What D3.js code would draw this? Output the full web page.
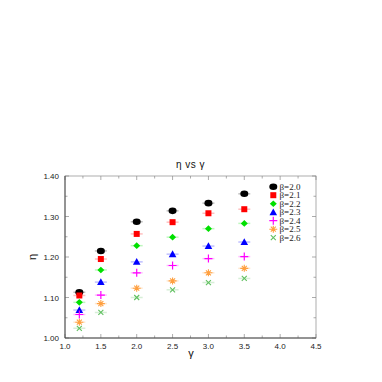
<!DOCTYPE html>
<html><head><meta charset="utf-8">
<script src="https://cdn.jsdelivr.net/npm/d3@7"></script>
<style>body{margin:0;background:#fff}svg{display:block}</style>
</head><body>
<script>
const gammaValues = [1.2, 1.5, 2.0, 2.5, 3.0, 3.5];
const betaLabels = ["β=2.0","β=2.1","β=2.2","β=2.3","β=2.4","β=2.5","β=2.6"];
const eta_b20 = [1.113, 1.215, 1.287, 1.314, 1.333, 1.356];
const eta_b21 = [1.105, 1.195, 1.257, 1.286, 1.308, 1.318];
const eta_b22 = [1.088, 1.168, 1.228, 1.249, 1.270, 1.283];
const eta_b23 = [1.069, 1.138, 1.188, 1.207, 1.227, 1.237];
const eta_b24 = [1.058, 1.106, 1.161, 1.179, 1.196, 1.201];
const eta_b25 = [1.039, 1.085, 1.123, 1.141, 1.161, 1.172];
const eta_b26 = [1.024, 1.063, 1.100, 1.119, 1.137, 1.147];
const xTicks = [1.0,1.5,2.0,2.5,3.0,3.5,4.0,4.5];
const yTicks = [1.00,1.10,1.20,1.30,1.40];
const colors = ["#000000","#ff0000","#00e000","#0000ff","#ff00ff","#ffa040","#60c060"];
const shapes = ["circle","square","diamond","triangle","plus","star","cross"];

const series = [eta_b20,eta_b21,eta_b22,eta_b23,eta_b24,eta_b25,eta_b26];
const W=382,H=382;
const svg=d3.select("body").append("svg").attr("width",W).attr("height",H);
const x=d3.scaleLinear().domain([1.0,4.5]).range([65,316]);
const y=d3.scaleLinear().domain([1.0,1.4]).range([338,176]);
const font="Helvetica, Arial, 'Liberation Sans', sans-serif";

// frame
svg.append("rect").attr("x",65).attr("y",176).attr("width",251).attr("height",162)
  .attr("fill","none").attr("stroke","#999").attr("stroke-width",0.8);

// ticks
const minorX=d3.range(1.0,4.5001,0.25), minorY=d3.range(1.0,1.4001,0.05);
const tg=svg.append("g").attr("stroke","#888").attr("stroke-width",0.7);
minorX.forEach(v=>{
  const L = Math.abs(v*2-Math.round(v*2))<1e-6?4:2.5;
  tg.append("line").attr("x1",x(v)).attr("x2",x(v)).attr("y1",338).attr("y2",338-L);
  tg.append("line").attr("x1",x(v)).attr("x2",x(v)).attr("y1",176).attr("y2",176+L);
});
minorY.forEach(v=>{
  const L = Math.abs(v*10-Math.round(v*10))<1e-6?4:2.5;
  tg.append("line").attr("y1",y(v)).attr("y2",y(v)).attr("x1",65).attr("x2",65+L);
  tg.append("line").attr("y1",y(v)).attr("y2",y(v)).attr("x1",316).attr("x2",316-L);
});
// axis lines darker
svg.append("line").attr("x1",65).attr("x2",65).attr("y1",176).attr("y2",338).attr("stroke","#444").attr("stroke-width",0.9);
svg.append("line").attr("x1",65).attr("x2",316).attr("y1",338).attr("y2",338).attr("stroke","#444").attr("stroke-width",0.9);

// tick labels
svg.append("g").selectAll("text").data(xTicks).join("text")
  .attr("x",d=>x(d)).attr("y",349).attr("text-anchor","middle")
  .attr("font-family",font).attr("font-size",8).attr("fill","#222").text(d=>d.toFixed(1));
svg.append("g").selectAll("text").data(yTicks).join("text")
  .attr("x",59).attr("y",d=>y(d)+3).attr("text-anchor","end")
  .attr("font-family",font).attr("font-size",8).attr("fill","#222").text(d=>d.toFixed(2));

// labels
svg.append("text").attr("x",190.5).attr("y",168).attr("text-anchor","middle")
  .attr("font-family",font).attr("font-size",10).attr("letter-spacing",0.5).attr("fill","#111").text("η vs γ");
svg.append("text").attr("x",191).attr("y",357).attr("text-anchor","middle")
  .attr("font-family",font).attr("font-size",11).attr("fill","#111").text("γ");
svg.append("text").attr("transform","translate(36,257) rotate(-90)").attr("text-anchor","middle")
  .attr("font-family",font).attr("font-size",11).attr("fill","#111").text("η");

function drawMarker(g,shape,color,cx,cy){
  if(shape==="circle") g.append("ellipse").attr("cx",cx).attr("cy",cy).attr("rx",4).attr("ry",3.3).attr("fill",color);
  else if(shape==="square") g.append("rect").attr("x",cx-3).attr("y",cy-3).attr("width",6).attr("height",6).attr("fill",color);
  else if(shape==="diamond") g.append("path").attr("d",`M${cx},${cy-3.3}L${cx+3.5},${cy}L${cx},${cy+3.3}L${cx-3.5},${cy}Z`).attr("fill",color);
  else if(shape==="triangle") g.append("path").attr("d",`M${cx},${cy-3.8}L${cx+3.8},${cy+3}L${cx-3.8},${cy+3}Z`).attr("fill",color);
  else if(shape==="plus") g.append("path").attr("d",`M${cx-4},${cy}H${cx+4}M${cx},${cy-4}V${cy+4}`).attr("stroke",color).attr("stroke-width",1.2);
  else if(shape==="star") g.append("path").attr("d",`M${cx-4},${cy}H${cx+4}M${cx},${cy-3.5}V${cy+3.5}M${cx-2.5},${cy-2.5}L${cx+2.5},${cy+2.5}M${cx-2.5},${cy+2.5}L${cx+2.5},${cy-2.5}`).attr("stroke",color).attr("stroke-width",1.1);
  else if(shape==="cross") g.append("path").attr("d",`M${cx-2.5},${cy-2.5}L${cx+2.5},${cy+2.5}M${cx-2.5},${cy+2.5}L${cx+2.5},${cy-2.5}`).attr("stroke",color).attr("stroke-width",1.1);
}

const pg=svg.append("g");
series.forEach((s,i)=>{
  s.forEach((v,j)=>{
    const cx=x(gammaValues[j]), cy=y(v);
    pg.append("line").attr("x1",cx-6).attr("x2",cx+6).attr("y1",cy).attr("y2",cy)
      .attr("stroke",colors[i]).attr("stroke-opacity",0.25).attr("stroke-width",1.5);
    drawMarker(pg,shapes[i],colors[i],cx,cy);
  });
});

// legend
const lg=svg.append("g");
betaLabels.forEach((t,i)=>{
  const ly=186.7+i*8.5;
  drawMarker(lg,shapes[i],colors[i],273.3,ly);
  lg.append("text").attr("x",279.5).attr("y",ly+3).attr("font-family","'Liberation Serif','Times New Roman',serif")
    .attr("font-size",9).attr("fill","#222").text(t);
});
</script>
</body></html>
